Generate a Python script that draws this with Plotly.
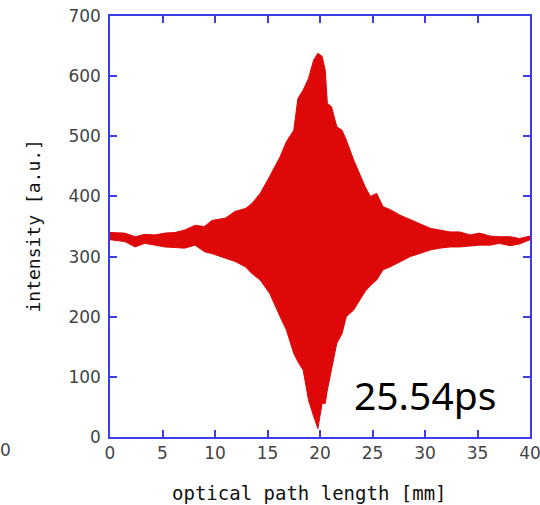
import plotly.graph_objects as go

# optical path length [mm] sample positions of the envelope
x_mm = [0, 1.4, 2.4, 3.3, 4.3, 5.2, 6.2, 7.1, 8.1, 9.0, 9.7, 11.0, 11.9, 12.9, 13.5,
        14.3, 15.2, 16.2, 16.8, 17.5, 17.9, 18.4, 18.9, 19.4, 19.8, 20.2, 20.5, 20.7,
        21.1, 21.6, 22.1, 22.5, 23.2, 23.8, 24.3, 24.8, 25.4, 26.0, 26.7, 27.6, 28.6,
        29.5, 30.5, 31.4, 32.4, 33.3, 34.3, 35.2, 36.2, 37.1, 38.1, 39.0, 40.0]
# upper envelope of the interferogram [a.u.]
upper = [340, 339, 333, 337, 336, 339, 340, 344, 352, 350, 360, 364, 375, 380, 388,
         405, 433, 466, 491, 510, 563, 577, 596, 627, 638, 633, 610, 555,
         549, 516, 510, 494, 461, 438, 416, 400, 405, 383, 378, 369, 361,
         355, 347, 344, 341, 341, 336, 339, 334, 333, 333, 330, 334]
# lower envelope of the interferogram [a.u.]
lower = [328, 325, 316, 322, 319, 316, 315, 314, 319, 308, 305, 297, 292, 283, 272,
         261, 239, 200, 178, 139, 125, 111, 62, 34, 14, 56, 56, 78,
         111, 156, 172, 200, 211, 228, 242, 252, 261, 278, 283, 291, 300,
         305, 311, 314, 316, 316, 318, 319, 319, 322, 318, 321, 328]

x_ticks = [0, 5, 10, 15, 20, 25, 30, 35, 40]
y_ticks = [0, 100, 200, 300, 400, 500, 600, 700]

red = "rgb(222,8,8)"
blue = "rgb(60,60,235)"
tick_font = dict(family="DejaVu Sans", size=17, color="#444444")

fig = go.Figure()
fig.add_trace(go.Scatter(x=x_mm, y=lower, mode="lines",
                         line=dict(color=red, width=1), showlegend=False,
                         hoverinfo="skip"))
fig.add_trace(go.Scatter(x=x_mm, y=upper, mode="lines", fill="tonexty",
                         fillcolor=red, line=dict(color=red, width=1),
                         showlegend=False, hoverinfo="skip"))

axis_common = dict(ticks="inside", ticklen=7, tickcolor=blue, tickwidth=1.5,
                   showline=True, linecolor=blue, linewidth=1.5, mirror="ticks",
                   showgrid=False, zeroline=False, tickfont=tick_font,
                   automargin=False, ticklabeloverflow="allow")

fig.update_layout(
    width=540, height=505,
    margin=dict(l=110, r=10, t=16, b=68, autoexpand=False),
    plot_bgcolor="white", paper_bgcolor="white",
    xaxis=dict(range=[0, 40], tickvals=x_ticks, **axis_common),
    yaxis=dict(range=[0, 700], tickvals=y_ticks, ticklabelstandoff=4, **axis_common),
    annotations=[
        dict(text="optical path length [mm]", x=(309 - 110) / 420, y=(437 - 493) / 421,
             xref="paper", yref="paper", xanchor="center", yanchor="middle",
             showarrow=False,
             font=dict(family="DejaVu Sans Mono", size=19, color="#111111")),
        dict(text="intensity [a.u.]", x=(33 - 110) / 420, y=0.5, textangle=-90,
             xref="paper", yref="paper", xanchor="center", yanchor="middle",
             showarrow=False,
             font=dict(family="DejaVu Sans Mono", size=18, color="#111111")),
        dict(text="25.54ps", x=0.75, y=0.101, xref="paper", yref="paper",
             xanchor="center", yanchor="middle", showarrow=False,
             font=dict(family="Noto Sans", size=39, color="black")),
        dict(text="0", x=(13 - 110) / 420, y=(437 - 450) / 421,
             xref="paper", yref="paper",
             xanchor="right", yanchor="middle", showarrow=False,
             font=dict(family="DejaVu Sans", size=17, color="#444444")),
    ],
)

fig.write_html("out.html", config={"displayModeBar": False},
               post_script="document.body.style.margin='0';")
